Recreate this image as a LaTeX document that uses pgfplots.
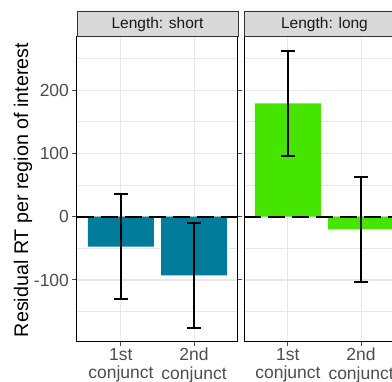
\documentclass[border=0pt]{standalone}
\usepackage{pgfplots}
\pgfplotsset{compat=1.18}
\usepackage{fontspec}
\setmainfont{Liberation Sans}
\definecolor{barteal}{HTML}{007B9A}
\definecolor{bargreen}{HTML}{45E500}
\definecolor{gridc}{HTML}{E8E8E8}
\definecolor{ticktxt}{HTML}{4D4D4D}
\definecolor{stripfill}{HTML}{D9D9D9}
\definecolor{stripline}{HTML}{333333}
\pgfplotsset{
  panel/.style={
    scale only axis, width=161pt, height=305pt,
    xmin=0.4, xmax=2.6, ymin=-198, ymax=284,
    xtick={1,2}, xticklabels={1st\\conjunct,2nd\\conjunct},
    ytick={-100,0,100,200}, minor ytick={-150,-50,50,150,250},
    grid=both,
    major grid style={color=gridc, line width=1.1pt},
    minor grid style={color=gridc, line width=0.6pt},
    axis line style={color=black, line width=1pt},
    tick align=outside, major tick length=4.5pt,
    tick style={color=ticktxt, line width=1pt},
    minor tick length=0pt,
    xticklabel style={align=center, font=\fontsize{17.5}{18.5}\selectfont, text=ticktxt, yshift=2pt},
    yticklabel style={font=\fontsize{17.5}{19}\selectfont, text=ticktxt},
    axis on top=false,
  },
  errs/.style={draw=none, mark=none, forget plot,
    error bars/.cd, y dir=both, y explicit,
    error bar style={line width=2pt, black},
    error mark=-, error mark options={line width=2pt, mark size=7.35pt, black, rotate=90}},
}
\begin{document}
\begin{tikzpicture}
\useasboundingbox (0,0) rectangle (392pt,382pt);
\clip (0,0) rectangle (392pt,382pt);
% left panel
\begin{axis}[panel, at={(77pt,40pt)}, anchor=south west,
  yticklabels={-100,0,100,200}]
\addplot[ybar, bar width=0.9, fill=barteal, draw=none] coordinates {(1,-47.4) (2,-92.6)};
\addplot[black, line width=2.2pt, dash pattern=on 17pt off 7pt] coordinates {(0.4,0) (2.6,0)};
\addplot[errs] coordinates {(1,-47.4) += (0,83.2) -= (0,82.6) (2,-92.6) += (0,82.1) -= (0,83.2)};
\end{axis}
% right panel
\begin{axis}[panel, at={(244pt,40pt)}, anchor=south west,
  yticklabels={}, ytick style={draw=none}]
\addplot[ybar, bar width=0.9, fill=bargreen, draw=none] coordinates {(1,179) (2,-20)};
\addplot[black, line width=2.2pt, dash pattern=on 17pt off 7pt] coordinates {(0.4,0) (2.6,0)};
\addplot[errs] coordinates {(1,179) += (0,83) -= (0,83.1) (2,-20) += (0,83.2) -= (0,83.6)};
\end{axis}
% strips
\draw[fill=stripfill, draw=stripline, line width=1pt] (77pt,345pt) rectangle (238pt,370pt);
\node[font=\fontsize{15.5}{18}\selectfont, text=black!90] at (157.5pt,357.5pt) {Length: short};
\draw[fill=stripfill, draw=stripline, line width=1pt] (244pt,345pt) rectangle (405pt,370pt);
\node[font=\fontsize{15.5}{18}\selectfont, text=black!90] at (324.5pt,357.5pt) {Length: long};
% y label
\node[rotate=90, font=\fontsize{19.7}{23}\selectfont] at (23pt,192pt) {Residual RT per region of interest};
\end{tikzpicture}
\end{document}
